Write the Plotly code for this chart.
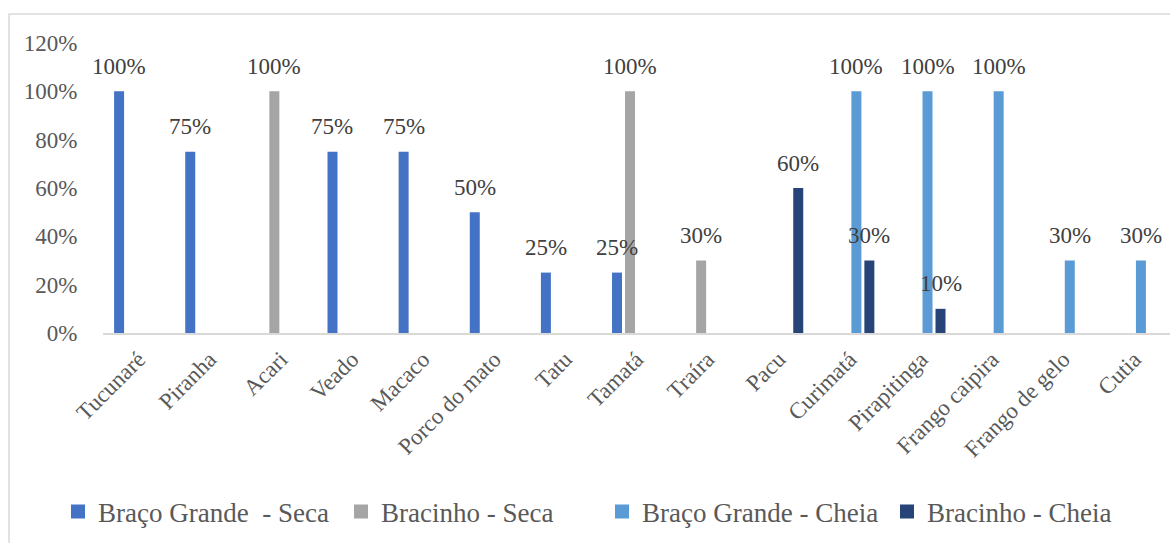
import plotly.graph_objects as go

# Categories (species) on the x axis
categorias = ["Tucunaré", "Piranha", "Acari", "Veado", "Macaco", "Porco do mato",
              "Tatu", "Tamatá", "Traíra", "Pacu", "Curimatá", "Pirapitinga",
              "Frango caipira", "Frango de gelo", "Cutia"]

# Series values (fraction); None = no bar
braco_grande_seca = [1.00, 0.75, None, 0.75, 0.75, 0.50, 0.25, 0.25, None, None, None, None, None, None, None]
bracinho_seca     = [None, None, 1.00, None, None, None, None, 1.00, 0.30, None, None, None, None, None, None]
braco_grande_cheia = [None, None, None, None, None, None, None, None, None, None, 1.00, 1.00, 1.00, 0.30, 0.30]
bracinho_cheia    = [None, None, None, None, None, None, None, None, None, 0.60, 0.30, 0.10, None, None, None]

nomes = ["Braço Grande \u00a0- Seca", "Bracinho - Seca", "Braço Grande - Cheia", "Bracinho - Cheia"]
series = [braco_grande_seca, bracinho_seca, braco_grande_cheia, bracinho_cheia]
cores = ["#4472C4", "#A5A5A5", "#5B9BD5", "#264478"]

y_ticks = [0, 0.2, 0.4, 0.6, 0.8, 1.0, 1.2]
y_tick_labels = ["0%", "20%", "40%", "60%", "80%", "100%", "120%"]

FONT = "Liberation Serif"
W, H = 1170, 543
ML, MR, MT, MB = 103, 0, 43, 210
plot_w = W - ML - MR
plot_h = H - MT - MB

# Left edge (px) of each legend entry along the bottom row
legend_left_px = [58, 341, 602, 887]
legend_ids = ["legend", "legend2", "legend3", "legend4"]

fig = go.Figure()
for nome, vals, cor in zip(nomes, series, cores):
    fig.add_trace(go.Bar(
        name=nome, x=categorias, y=vals, marker=dict(color=cor, line=dict(width=0)),
        hoverinfo="x+y", showlegend=False,
    ))

# Square legend swatches, one legend box per series
for nome, cor, lid in zip(nomes, cores, legend_ids):
    fig.add_trace(go.Scatter(
        name=nome, x=[None], y=[None], mode="markers",
        marker=dict(symbol="square", size=14, color=cor, line=dict(width=0)),
        legend=lid, showlegend=True, hoverinfo="skip",
    ))

# Value labels above each bar, shifted to the bar's slot within the group
cat_w = plot_w / len(categorias)
bargap, n = 0.27, len(series)
slot = cat_w * (1 - bargap) / n
annotations = []
for i, vals in enumerate(series):
    dx = (i - (n - 1) / 2) * slot
    for cat, v in zip(categorias, vals):
        if v is None:
            continue
        annotations.append(dict(
            x=cat, y=v, xref="x", yref="y", text=f"{round(v * 100)}%",
            showarrow=False, xshift=dx, yshift=25, yanchor="middle",
            font=dict(family=FONT, size=23, color="#404040"),
        ))

# Outer chart frame
frame = dict(
    type="rect", xref="paper", yref="paper", layer="below",
    x0=(9 - ML) / plot_w, x1=(W + 20 - ML) / plot_w,
    y0=-(H + 20 - (H - MB)) / plot_h, y1=((H - MB) - 14) / plot_h,
    line=dict(color="#D9D9D9", width=1.5), fillcolor="rgba(0,0,0,0)",
)

legend_y = -(512 - (H - MB)) / plot_h
legends = {}
for lid, px in zip(legend_ids, legend_left_px):
    legends[lid] = dict(
        orientation="h", x=(px - ML) / plot_w, xanchor="left",
        y=legend_y, yanchor="middle",
        font=dict(family=FONT, size=27, color="#595959"),
        bgcolor="rgba(0,0,0,0)",
    )

fig.update_layout(
    width=W, height=H,
    margin=dict(l=ML, r=MR, t=MT, b=MB),
    paper_bgcolor="white", plot_bgcolor="white",
    barmode="group", bargap=bargap, bargroupgap=0.23,
    showlegend=True,
    annotations=annotations,
    shapes=[frame],
    xaxis=dict(
        range=[-0.5, len(categorias) - 0.5],
        showgrid=False, showline=True, linecolor="#D9D9D9", linewidth=1.5,
        tickangle=-45, ticks="outside", ticklen=2, tickcolor="rgba(0,0,0,0)",
        tickfont=dict(family=FONT, size=23, color="#595959"),
    ),
    yaxis=dict(
        range=[0, 1.2], tickvals=y_ticks, ticktext=y_tick_labels,
        showgrid=False, showline=False, zeroline=False,
        ticks="outside", ticklen=20, tickcolor="rgba(0,0,0,0)",
        tickfont=dict(family=FONT, size=23, color="#595959"),
    ),
    **legends,
)

fig.write_html("out.html")
